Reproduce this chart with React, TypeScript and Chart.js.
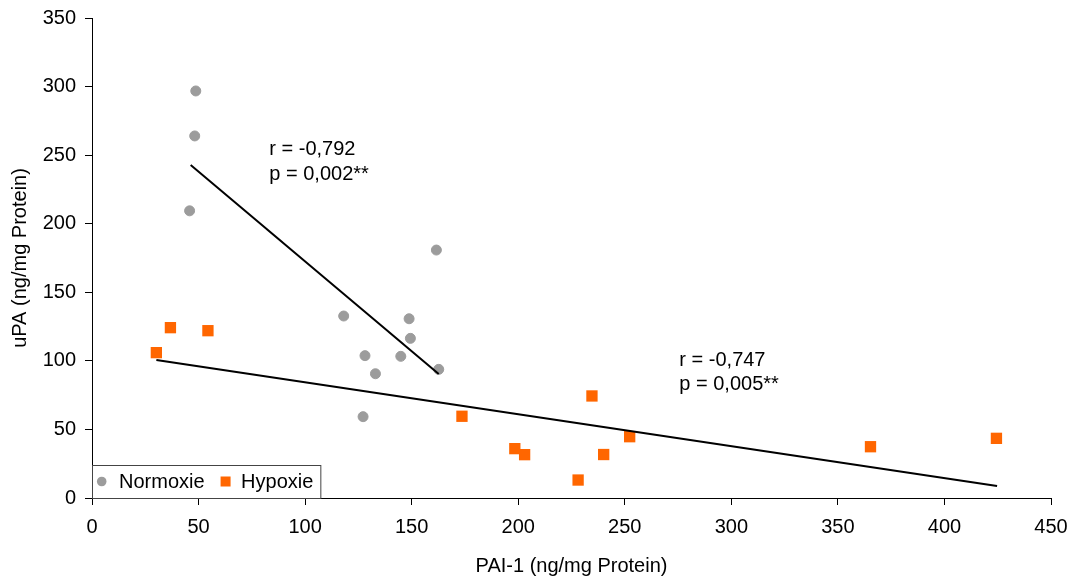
import React, { useEffect, useRef } from 'react';
import { Chart, registerables } from 'chart.js';

Chart.register(...registerables);

const FONT = "'Liberation Sans', Arial, Helvetica, sans-serif";

// Data
const normoxieX = [48.7, 48.2, 45.8, 161.6, 118.1, 148.8, 149.4, 128.1, 144.9, 133.0, 162.7, 127.2];
const normoxieY = [296.8, 264.0, 209.4, 180.8, 132.7, 130.7, 116.4, 103.8, 103.3, 90.6, 93.8, 59.3];
const hypoxieX = [36.8, 54.4, 30.2, 173.6, 198.4, 203.0, 228.1, 234.6, 240.1, 252.3, 365.3, 424.4];
const hypoxieY = [124.2, 122.0, 106.0, 59.6, 36.0, 31.6, 13.1, 74.4, 31.7, 44.7, 37.4, 43.5];

// Regression line end points
const trendNormoxieX = [46.3, 162.7];
const trendNormoxieY = [242.8, 90.4];
const trendHypoxieX = [30.2, 424.7];
const trendHypoxieY = [100.6, 8.75];

const seriesLabels = ['Normoxie', 'Hypoxie'];
const xTicks = [0, 50, 100, 150, 200, 250, 300, 350, 400, 450];
const yTicks = [0, 50, 100, 150, 200, 250, 300, 350];
const xTitle = 'PAI-1 (ng/mg Protein)';
const yTitle = 'uPA (ng/mg Protein)';

const annotationTexts = [
  ['r = -0,792', 'p = 0,002**'],
  ['r = -0,747', 'p = 0,005**'],
];
const annotationX = [83.2, 275.6];
const annotationY = [254.0, 100.4];

const toPoints = (xs: number[], ys: number[]) => xs.map((x, i) => ({ x, y: ys[i] }));

const annotationPlugin = {
  id: 'corrAnnotations',
  afterDatasetsDraw(chart: any) {
    const { ctx, scales } = chart;
    ctx.save();
    ctx.font = `20px ${FONT}`;
    ctx.fillStyle = '#000';
    ctx.textAlign = 'left';
    ctx.textBaseline = 'middle';
    annotationTexts.forEach((lines, i) => {
      const px = scales.x.getPixelForValue(annotationX[i]);
      const py = scales.y.getPixelForValue(annotationY[i]);
      lines.forEach((t, j) => ctx.fillText(t, px, py + j * 24.5));
    });
    ctx.restore();
  },
};

const legendPlugin = {
  id: 'boxLegend',
  afterDatasetsDraw(chart: any) {
    const { ctx, chartArea } = chart;
    ctx.save();
    ctx.font = `20px ${FONT}`;
    const left = chartArea.left;
    const bottom = chartArea.bottom;
    const h = 33;
    const top = bottom - h;
    const midY = top + h / 2;
    const w0 = ctx.measureText(seriesLabels[0]).width;
    const w1 = ctx.measureText(seriesLabels[1]).width;
    const m0 = left + 9.7;
    const t0 = m0 + 17.3;
    const m1 = t0 + w0 + 21;
    const t1 = m1 + 15.5;
    const right = t1 + w1 + 7;
    ctx.fillStyle = '#fff';
    ctx.fillRect(left, top, right - left, h);
    ctx.strokeStyle = '#444';
    ctx.lineWidth = 1;
    ctx.strokeRect(left + 0.5, top + 0.5, right - left, h);
    const ds = chart.data.datasets;
    // marker 0: circle
    ctx.fillStyle = ds[0].backgroundColor;
    ctx.beginPath();
    ctx.arc(m0, midY, 4.8, 0, Math.PI * 2);
    ctx.fill();
    // marker 1: square
    ctx.fillStyle = ds[1].backgroundColor;
    ctx.fillRect(m1 - 5, midY - 5, 10, 10);
    ctx.fillStyle = '#000';
    ctx.textAlign = 'left';
    ctx.textBaseline = 'middle';
    ctx.fillText(seriesLabels[0], t0, midY + 0.5);
    ctx.fillText(seriesLabels[1], t1, midY + 0.5);
    ctx.restore();
  },
};

export default function App() {
  const canvasRef = useRef<HTMLCanvasElement | null>(null);

  useEffect(() => {
    document.body.style.margin = '0';
    const canvas = canvasRef.current;
    if (!canvas) return;
    const axisCommon = {
      border: { display: true, color: '#000', width: 1 },
      grid: { display: true, drawOnChartArea: false, drawTicks: true, tickLength: 7, color: '#000', lineWidth: 1 },
    };
    const chart = new Chart(canvas, {
      type: 'scatter',
      data: {
        datasets: [
          {
            label: seriesLabels[0],
            data: toPoints(normoxieX, normoxieY),
            backgroundColor: '#9c9c9c',
            borderColor: '#9c9c9c',
            borderWidth: 1,
            pointStyle: 'circle',
            pointRadius: 5,
            order: 1,
          },
          {
            label: seriesLabels[1],
            data: toPoints(hypoxieX, hypoxieY),
            backgroundColor: '#ff6600',
            borderColor: '#ff6600',
            borderWidth: 0,
            pointStyle: 'rect',
            pointRadius: 8,
            order: 1,
          },
          {
            label: 'Trend Normoxie',
            data: toPoints(trendNormoxieX, trendNormoxieY),
            showLine: true,
            borderColor: '#000',
            borderWidth: 2,
            pointRadius: 0,
            fill: false,
            order: 0,
          },
          {
            label: 'Trend Hypoxie',
            data: toPoints(trendHypoxieX, trendHypoxieY),
            showLine: true,
            borderColor: '#000',
            borderWidth: 2,
            pointRadius: 0,
            fill: false,
            order: 0,
          },
        ],
      } as any,
      options: {
        animation: false,
        responsive: true,
        maintainAspectRatio: false,
        events: [],
        layout: { padding: { top: 18, right: 23, left: 0, bottom: 0 } },
        plugins: {
          legend: { display: false },
          tooltip: { enabled: false },
        },
        scales: {
          x: {
            type: 'linear',
            min: 0,
            max: 450,
            ...axisCommon,
            afterBuildTicks: (s: any) => {
              s.ticks = xTicks.map((v) => ({ value: v }));
            },
            afterFit: (s: any) => {
              s.height = 86;
              s.paddingLeft = 0;
              s.paddingRight = 0;
              s.paddingTop = 0;
              s.paddingBottom = 0;
            },
            ticks: { color: '#000', font: { family: FONT, size: 20 }, padding: 10, maxRotation: 0 },
            title: {
              display: true,
              text: xTitle,
              color: '#000',
              font: { family: FONT, size: 20 },
              padding: { top: 0, bottom: 6 },
            },
          },
          y: {
            type: 'linear',
            min: 0,
            max: 350,
            ...axisCommon,
            afterBuildTicks: (s: any) => {
              s.ticks = yTicks.map((v) => ({ value: v }));
            },
            afterFit: (s: any) => {
              s.width = 92;
              s.paddingLeft = 0;
              s.paddingRight = 0;
              s.paddingTop = 0;
              s.paddingBottom = 0;
            },
            ticks: { color: '#000', font: { family: FONT, size: 20 }, padding: 9 },
            title: {
              display: true,
              text: yTitle,
              color: '#000',
              font: { family: FONT, size: 20 },
              padding: { top: 8, bottom: 0 },
            },
          },
        },
      } as any,
      plugins: [legendPlugin, annotationPlugin],
    });
    return () => chart.destroy();
  }, []);

  return (
    <div style={{ position: 'absolute', left: 0, top: 0, width: 1074, height: 584, background: '#fff' }}>
      <canvas ref={canvasRef} />
    </div>
  );
}
